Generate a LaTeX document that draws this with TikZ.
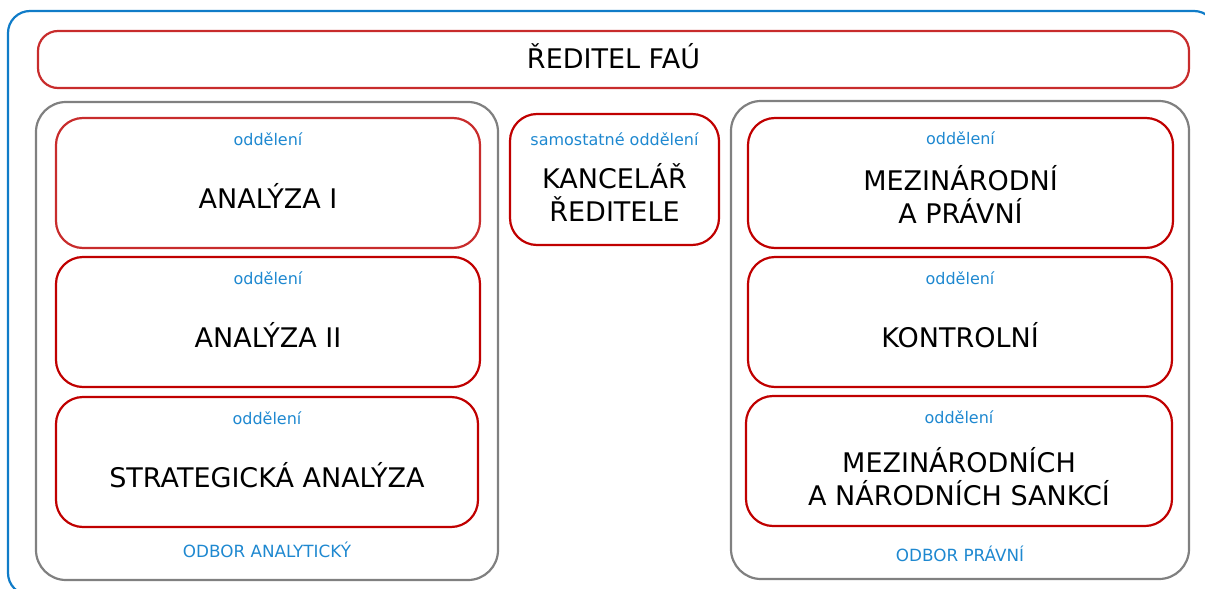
\documentclass[tikz,border=0pt]{standalone}
\usepackage{fontspec}
\setmainfont{DejaVu Sans}
\definecolor{frblue}{RGB}{16,124,200}
\definecolor{txblue}{RGB}{30,136,208}
\definecolor{dred}{RGB}{192,0,0}
\definecolor{lred}{RGB}{200,44,44}
\definecolor{bgray}{RGB}{128,128,128}
\tikzset{
  box/.style={rectangle, rounded corners=27pt, line width=2.2pt, inner sep=0pt, outer sep=0pt},
  redbox/.style={box, draw=dred},
  lredbox/.style={box, draw=lred},
  graybox/.style={box, draw=bgray, rounded corners=30pt},
  bigtxt/.style={font=\fontsize{27}{32}\selectfont, text=black, anchor=base, inner sep=0pt},
  smalltxt/.style={font=\fontsize{16}{19}\selectfont, text=txblue, anchor=base, inner sep=0pt},
  odbortxt/.style={font=\fontsize{16.8}{20}\selectfont, text=txblue, anchor=base, inner sep=0pt},
}
\begin{document}
\begin{tikzpicture}[x=1pt,y=-1pt]
\useasboundingbox (0,0) rectangle (1205,589);
\clip (0,0) rectangle (1205,589);
% outer frame
\node[box, draw=frblue, rounded corners=22pt, minimum width=1208pt, minimum height=584pt] (outer) at (612,303) {};
% director
\node[lredbox, rounded corners=20pt, minimum width=1151pt, minimum height=57pt] (dir) at (613.5,59.5) {};
\node[bigtxt] (tdir) at (613.5,68.5) {ŘEDITEL FAÚ};
% left department group
\node[graybox, minimum width=462pt, minimum height=478pt] (odA) at (267,341) {};
\node[odbortxt] (todA) at (267,557.5) {ODBOR ANALYTICKÝ};
\node[lredbox, minimum width=424pt, minimum height=130pt] (a1) at (268,183) {};
\node[smalltxt] (sa1) at (268,145) {oddělení};
\node[bigtxt] (ta1) at (268,208) {ANALÝZA I};
\node[redbox, minimum width=424pt, minimum height=130pt] (a2) at (268,322) {};
\node[smalltxt] (sa2) at (268,284) {oddělení};
\node[bigtxt] (ta2) at (268,347) {ANALÝZA II};
\node[redbox, minimum width=422pt, minimum height=130pt] (a3) at (267,462) {};
\node[smalltxt] (sa3) at (267,424) {oddělení};
\node[bigtxt] (ta3) at (267,487) {STRATEGICKÁ ANALÝZA};
% middle
\node[redbox, minimum width=209pt, minimum height=131pt] (kr) at (614.5,179.5) {};
\node[smalltxt] (skr) at (614.5,145) {samostatné oddělení};
\node[bigtxt] (tkr1) at (614.5,188.7) {KANCELÁŘ};
\node[bigtxt] (tkr2) at (614.5,221.7) {ŘEDITELE};
% right department group
\node[graybox, minimum width=458pt, minimum height=478pt] (odP) at (960,340) {};
\node[odbortxt] (todP) at (960,561) {ODBOR PRÁVNÍ};
\node[redbox, minimum width=425pt, minimum height=130pt] (p1) at (960.5,183) {};
\node[smalltxt] (sp1) at (960.5,144.5) {oddělení};
\node[bigtxt] (tp1a) at (960.5,190.7) {MEZINÁRODNÍ};
\node[bigtxt] (tp1b) at (960.5,223.5) {A PRÁVNÍ};
\node[redbox, minimum width=424pt, minimum height=130pt] (p2) at (960,322) {};
\node[smalltxt] (sp2) at (960,284) {oddělení};
\node[bigtxt] (tp2) at (960,347) {KONTROLNÍ};
\node[redbox, minimum width=426pt, minimum height=130pt] (p3) at (959,461) {};
\node[smalltxt] (sp3) at (959,423) {oddělení};
\node[bigtxt] (tp3a) at (959,472) {MEZINÁRODNÍCH};
\node[bigtxt] (tp3b) at (959,505) {A NÁRODNÍCH SANKCÍ};
\end{tikzpicture}
\end{document}
